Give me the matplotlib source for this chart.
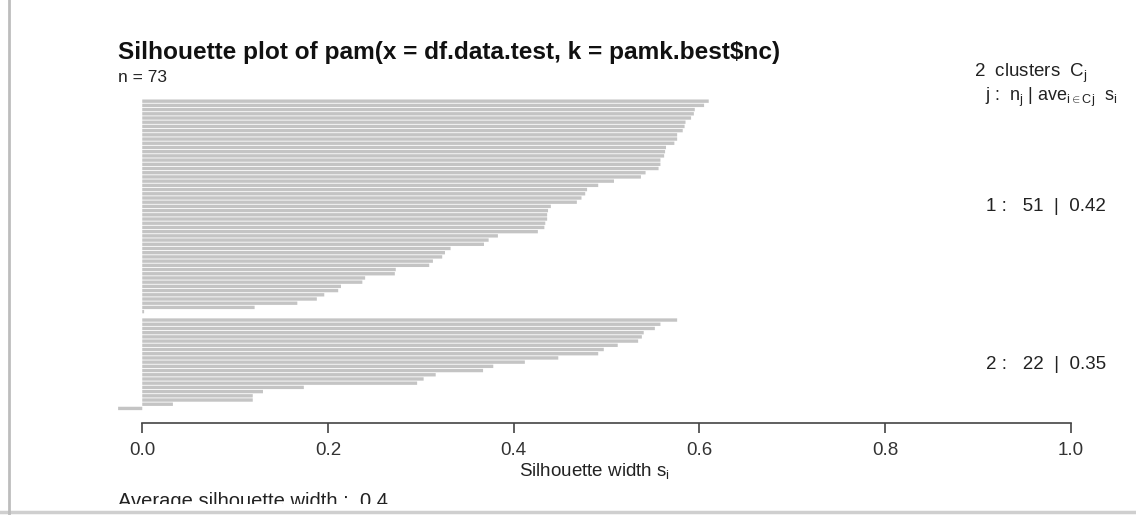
import numpy as np
import matplotlib
matplotlib.use("Agg")
import matplotlib.pyplot as plt
from matplotlib.lines import Line2D
from matplotlib.patches import Rectangle

plt.rcParams['font.family'] = ['Liberation Sans', 'DejaVu Sans']
plt.rcParams['mathtext.fontset'] = 'custom'
plt.rcParams['mathtext.rm'] = 'Liberation Sans'
plt.rcParams['mathtext.it'] = 'Liberation Sans'
plt.rcParams['mathtext.sf'] = 'Liberation Sans'

# silhouette widths, sorted inside each cluster
sil_c1 = [0.610, 0.605, 0.595, 0.594, 0.591, 0.585, 0.584, 0.582, 0.576, 0.576,
          0.573, 0.564, 0.563, 0.562, 0.558, 0.558, 0.556, 0.542, 0.537, 0.508,
          0.491, 0.479, 0.477, 0.473, 0.468, 0.440, 0.437, 0.436, 0.436, 0.434,
          0.433, 0.426, 0.383, 0.373, 0.368, 0.332, 0.326, 0.323, 0.313, 0.309,
          0.273, 0.272, 0.240, 0.237, 0.214, 0.211, 0.196, 0.188, 0.167, 0.121,
          0.002]
sil_c2 = [0.576, 0.558, 0.552, 0.540, 0.538, 0.534, 0.512, 0.497, 0.491, 0.448,
          0.412, 0.378, 0.367, 0.316, 0.303, 0.296, 0.174, 0.130, 0.119, 0.119,
          0.033, -0.026]
cluster_avg = [0.42, 0.35]
avg_width = 0.4
xticks = [0.0, 0.2, 0.4, 0.6, 0.8, 1.0]

W, H = 1136, 515
fig = plt.figure(figsize=(W / 100, H / 100), dpi=100)

# plot region in pixels (left, top, right, bottom)
px_l, px_t, px_r, px_b = 80, 86.6, 1109, 423
ax = fig.add_axes([px_l / W, 1 - px_b / H, (px_r - px_l) / W, (px_b - px_t) / H])

clusters = [sil_c1, sil_c2]
n_tot = sum(len(c) for c in clusters)
n_slots = n_tot + len(clusters) - 1

# bars go top-down, cluster 1 first, one empty slot between clusters
slot = n_slots - 1
centers = []
for vals in clusters:
    ys = []
    for v in vals:
        bars = ax.barh(slot + 0.5, v, height=0.8, color='#c4c4c4', linewidth=0)
        for b in bars:
            b.set_snap(False)
        ys.append(slot + 0.5)
        slot -= 1
    centers.append(np.mean(ys))
    slot -= 1

s_all = np.concatenate([sil_c1, sil_c2])
xr = (min(0, s_all.min()), 1.0)
pad = 0.04 * (xr[1] - xr[0])
ax.set_xlim(xr[0] - pad, xr[1] + pad)
ax.set_ylim(-0.04 * n_slots, n_slots * 1.04)

for sp in ['top', 'right', 'left']:
    ax.spines[sp].set_visible(False)
ax.spines['bottom'].set_bounds(0, 1)
ax.spines['bottom'].set_color('#444444')
ax.spines['bottom'].set_linewidth(1.2)
ax.set_yticks([])
ax.set_xticks(xticks)
ax.set_xticklabels([f"{t:.1f}" for t in xticks])
ax.tick_params(axis='x', length=7, width=1.2, color='#444444', pad=7,
               labelsize=13.5, labelcolor='#333333')
ax.set_xlabel(r"Silhouette width $s_i$", fontsize=13.5, color='#222222', labelpad=1)

for j, (vals, yc, a) in enumerate(zip(clusters, centers, cluster_avg), start=1):
    ax.text(1.038, yc, f"{j} :   {len(vals)}  |  {a:.2f}", ha='right', va='center',
            fontsize=13.5, color='#222222', clip_on=False)

fig.text(118 / W, 1 - 52 / H, "Silhouette plot of pam(x = df.data.test, k = pamk.best$nc)",
         fontsize=17.6, fontweight='bold', color='#111111', va='center', parse_math=False)
fig.text(118 / W, 1 - 78 / H, "n = 73", fontsize=12.5, color='#222222', va='center')
fig.text(1087 / W, 1 - 73 / H, r"2  clusters  $C_j$", fontsize=13.5, color='#222222',
         ha='right', va='center')
fig.text(1117 / W, 1 - 97 / H, r"j :  $n_j$ | ave$_{i\in\mathrm{Cj}}$  $s_i$",
         fontsize=13, color='#222222', ha='right', va='center')
fig.text(118 / W, 1 - 492 / H, f"Average silhouette width :  {avg_width}",
         fontsize=14.5, color='#222222', va='top')

# the screenshot cuts the last line off and has a thin frame
fig.patches.append(Rectangle((0, 0), 1, 11 / H, transform=fig.transFigure,
                             facecolor='white', edgecolor='none', zorder=5))
fig.lines.append(Line2D([0, 1], [3.5 / H, 3.5 / H], transform=fig.transFigure,
                        color='#cfcfcf', linewidth=2.5, zorder=6))
fig.lines.append(Line2D([8.5 / W, 8.5 / W], [0, 1], transform=fig.transFigure,
                        color='#bdbdbd', linewidth=2, zorder=6))

fig.savefig("out.png", dpi=100, facecolor='white')
